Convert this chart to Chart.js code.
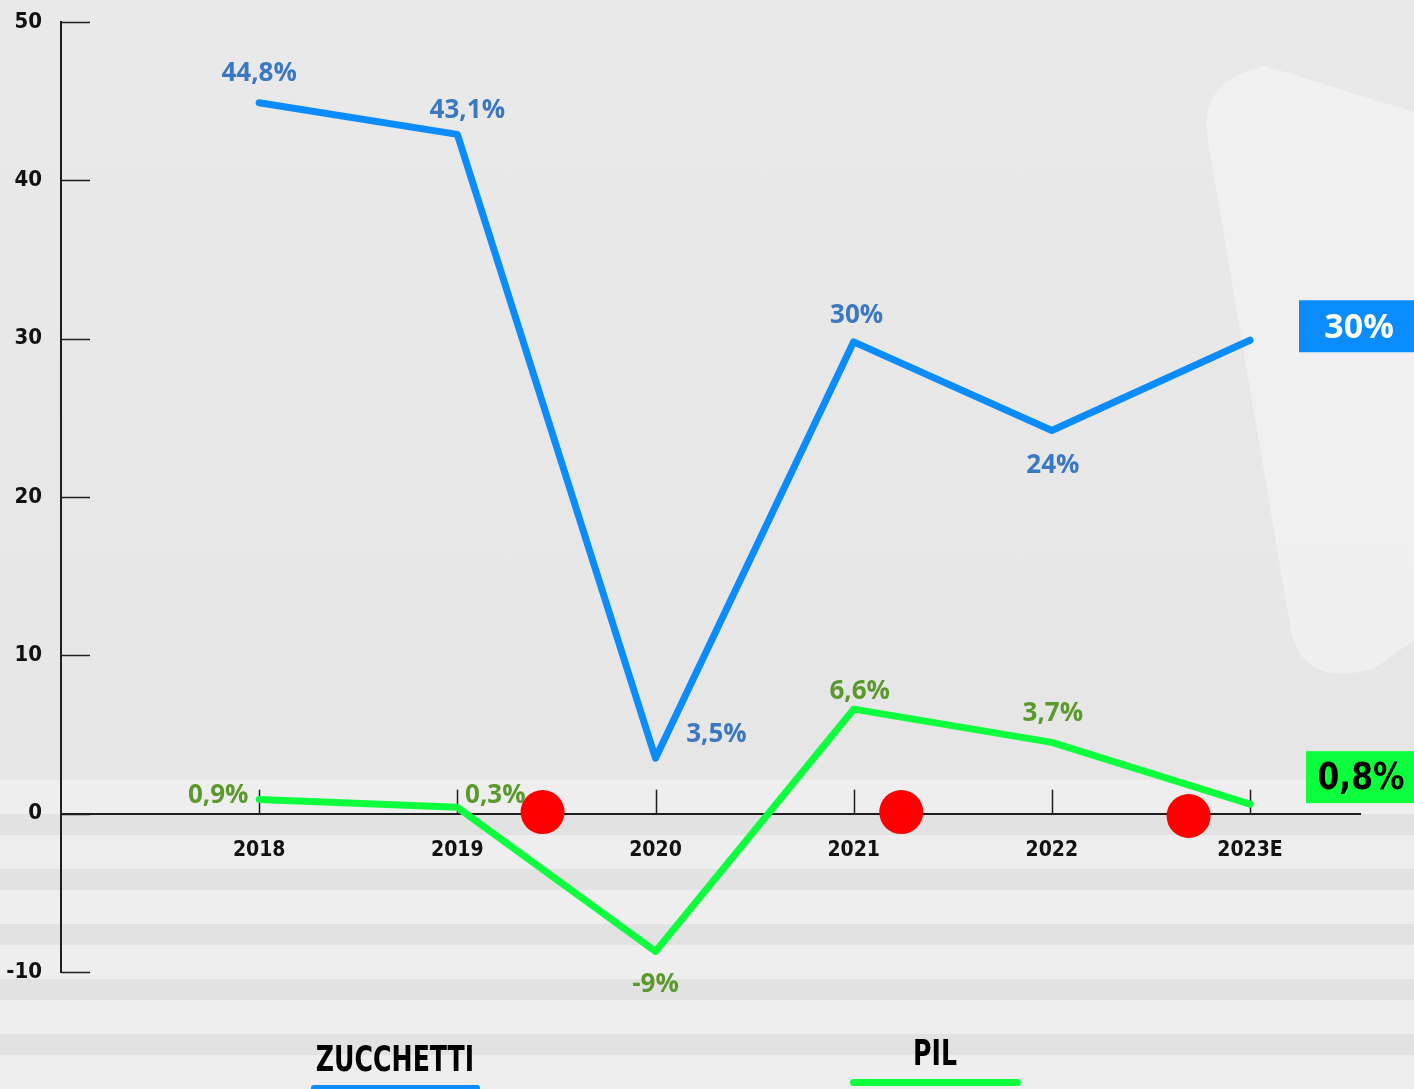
<!DOCTYPE html>
<html lang="it">
<head>
<meta charset="utf-8">
<title>Zucchetti vs PIL</title>
<script src="https://cdn.jsdelivr.net/npm/chart.js@4/dist/chart.umd.min.js"></script>
<style>
    html, body {
        margin: 0;
        padding: 0;
        width: 1414px;
        height: 1089px;
        overflow: hidden;
    }
    #contenitore {
        position: relative;
        width: 1414px;
        height: 1089px;
        background: linear-gradient(180deg, #e9e9e9 0%, #e6e6e6 70%, #e3e3e3 100%);
    }
    #strisce {
        position: absolute;
        left: 0;
        top: 780px;
        width: 1414px;
        height: 309px;
        background: repeating-linear-gradient(180deg,
            #eeeeee 0px, #eeeeee 34px,
            #e2e2e2 34px, #e2e2e2 55px);
    }
    #graficoZucchettiPil {
        position: absolute;
        left: 0;
        top: 0;
    }
</style>
</head>
<body>
<div id="contenitore">
    <div id="strisce"></div>
    <canvas id="graficoZucchettiPil"></canvas>
</div>
<script>
// dati
const anni = [2018, 2019, 2020, 2021, 2022, 2023];
const etichetteAnni = ['2018', '2019', '2020', '2021', '2022', '2023E'];
const tacchePercentuali = [-10, 0, 10, 20, 30, 40, 50];

const valoriZucchetti = [44.9, 42.9, 3.5, 29.8, 24.2, 29.9];
const testiZucchetti = ['44,8%', '43,1%', '3,5%', '30%', '24%', ''];

const valoriPil = [0.9, 0.4, -8.7, 6.6, 4.5, 0.6];
const testiPil = ['0,9%', '0,3%', '-9%', '6,6%', '3,7%', ''];

const finaleZucchetti = '30%';
const finalePil = '0,8%';

// pallini rossi sull'asse
const pallaniX = [2019.43, 2021.24, 2022.69];
const pallaniY = [0.1, 0.1, -0.15];

const colBlu = '#0a8cff';
const colVerde = '#0cff3c';
const colTestoBlu = '#3b78c2';
const colTestoVerde = '#5a9a2c';

const fontStretto = '"DejaVu Sans Condensed", "Liberation Sans Narrow", sans-serif';
const fontPieno = '"Open Sans", "Noto Sans", sans-serif';

// spostamenti delle etichette rispetto al punto (dx, dy)
const spostZucchetti = [[0, -29], [10, -24], [61, -24], [3, -26], [1, 35], [0, 0]];
const spostPil = [[-41, -4], [38, -12], [0, 33], [6, -18], [1, -29], [0, 0]];


function testoStretto(ctx, testo, x, y, fattore) {
    ctx.save();
    ctx.translate(x, y);
    ctx.scale(fattore, 1);
    ctx.fillText(testo, 0, 0);
    ctx.restore();
}

const pluginSfondo = {
    id: 'sfondo',
    beforeDraw(chart) {
        const ctx = chart.ctx;
        ctx.save();
        ctx.fillStyle = 'rgba(250,250,250,0.45)';
        ctx.beginPath();
        ctx.moveTo(1207, 135);
        ctx.quadraticCurveTo(1200, 80, 1265, 66);
        ctx.lineTo(1414, 112);
        ctx.lineTo(1414, 640);
        ctx.lineTo(1375, 668);
        ctx.quadraticCurveTo(1300, 690, 1290, 625);
        ctx.closePath();
        ctx.fill();
        ctx.restore();
    }
};

const pluginTacche = {
    id: 'tacche',
    beforeDatasetsDraw(chart) {
        const ctx = chart.ctx;
        const sx = chart.scales.x;
        const sy = chart.scales.y;
        ctx.save();
        ctx.strokeStyle = '#1e1e1e';
        ctx.lineWidth = 1.5;
        // tacche asse y verso l'interno
        sy.ticks.forEach(t => {
            const py = Math.round(sy.getPixelForValue(t.value)) + 0.5;
            ctx.beginPath();
            ctx.moveTo(sx.left, py);
            ctx.lineTo(sx.left + 29, py);
            ctx.stroke();
        });
        // tacche asse x verso l'alto
        const y0 = sy.getPixelForValue(0);
        anni.forEach(a => {
            const px = Math.round(sx.getPixelForValue(a)) + 0.5;
            ctx.beginPath();
            ctx.moveTo(px, y0);
            ctx.lineTo(px, y0 - 24);
            ctx.stroke();
        });
        ctx.restore();
    }
};

const pluginEtichette = {
    id: 'etichette',
    afterDraw(chart) {
        const ctx = chart.ctx;
        const sx = chart.scales.x;
        const sy = chart.scales.y;
        ctx.save();
        ctx.textAlign = 'center';
        ctx.textBaseline = 'middle';
        ctx.font = 'bold 26px ' + fontPieno;

        ctx.fillStyle = colTestoBlu;
        anni.forEach((a, i) => {
            if (!testiZucchetti[i]) return;
            const px = sx.getPixelForValue(a) + spostZucchetti[i][0];
            const py = sy.getPixelForValue(valoriZucchetti[i]) + spostZucchetti[i][1];
            ctx.fillText(testiZucchetti[i], px, py);
        });

        ctx.fillStyle = colTestoVerde;
        anni.forEach((a, i) => {
            if (!testiPil[i]) return;
            const px = sx.getPixelForValue(a) + spostPil[i][0];
            const py = sy.getPixelForValue(valoriPil[i]) + spostPil[i][1];
            ctx.fillText(testiPil[i], px, py);
        });

        // riquadri finali a destra
        const ultimo = anni.length - 1;
        const yBlu = sy.getPixelForValue(valoriZucchetti[ultimo]);
        ctx.fillStyle = colBlu;
        ctx.fillRect(1299, yBlu - 40, 115, 52);
        ctx.fillStyle = '#ffffff';
        ctx.font = 'bold 34px ' + fontPieno;
        ctx.fillText(finaleZucchetti, 1359, yBlu - 12);

        const yVerde = sy.getPixelForValue(valoriPil[ultimo]);
        ctx.fillStyle = colVerde;
        ctx.fillRect(1306, yVerde - 53, 108, 52);
        ctx.fillStyle = '#000000';
        ctx.font = 'bold 37px "DejaVu Sans", sans-serif';
        testoStretto(ctx, finalePil, 1361, yVerde - 25, 0.85);

        // legenda in basso
        ctx.font = 'bold 36px "DejaVu Sans", sans-serif';
        ctx.fillStyle = '#000000';
        testoStretto(ctx, 'ZUCCHETTI', 395, 1062, 0.7);
        testoStretto(ctx, 'PIL', 935, 1056, 0.7);

        ctx.fillStyle = colBlu;
        ctx.beginPath();
        ctx.roundRect(311, 1085, 169, 8, 3);
        ctx.fill();
        ctx.fillStyle = colVerde;
        ctx.beginPath();
        ctx.roundRect(850, 1079, 171, 7, 3.5);
        ctx.fill();

        ctx.restore();
    }
};


const ctxGrafico = document.getElementById('graficoZucchettiPil').getContext('2d');
const graficoZucchettiPil = new Chart(ctxGrafico, {
    type: 'line',
    data: {
        datasets: [{
            label: 'ZUCCHETTI',
            data: anni.map((a, i) => ({ x: a, y: valoriZucchetti[i] })),
            borderColor: colBlu,
            borderWidth: 7,
            borderCapStyle: 'round',
            borderJoinStyle: 'round',
            pointRadius: 0,
            tension: 0
        }, {
            label: 'PIL',
            data: anni.map((a, i) => ({ x: a, y: valoriPil[i] })),
            borderColor: colVerde,
            borderWidth: 7,
            borderCapStyle: 'round',
            borderJoinStyle: 'round',
            pointRadius: 0,
            tension: 0
        }, {
            type: 'scatter',
            label: 'pallini',
            data: pallaniX.map((x, i) => ({ x: x, y: pallaniY[i] })),
            backgroundColor: '#ff0000',
            borderWidth: 0,
            pointRadius: 22,
            pointHoverRadius: 22
        }]
    },
    options: {
        responsive: true,
        maintainAspectRatio: false,
        animation: false,
        layout: {
            padding: { top: 22, bottom: 117, right: 54, left: 0 }
        },
        scales: {
            x: {
                type: 'linear',
                position: { y: 0 },
                min: 2017,
                max: 2023.555,
                grid: { display: true, drawOnChartArea: false, drawTicks: false },
                border: { display: true, color: '#1e1e1e', width: 2 },
                afterBuildTicks: function (scala) {
                    scala.ticks = anni.map(a => ({ value: a }));
                },
                ticks: {
                    padding: 24,
                    color: '#111111',
                    font: { family: fontStretto, size: 21, weight: 'bold' },
                    callback: function (valore) {
                        const i = anni.indexOf(valore);
                        return i >= 0 ? etichetteAnni[i] : '';
                    }
                }
            },
            y: {
                min: -10,
                max: 50,
                grid: { display: true, drawOnChartArea: false, drawTicks: false },
                border: { display: true, color: '#1e1e1e', width: 2 },
                afterBuildTicks: function (scala) {
                    scala.ticks = tacchePercentuali.map(v => ({ value: v }));
                },
                afterFit: function (scala) {
                    scala.width = 61;
                    scala.paddingTop = 12;
                    scala.paddingBottom = 12;
                },
                ticks: {
                    padding: 19,
                    color: '#111111',
                    font: { family: fontStretto, size: 22, weight: 'bold' }
                }
            }
        },
        plugins: {
            legend: { display: false },
            tooltip: { enabled: false }
        }
    },
    plugins: [pluginSfondo, pluginTacche, pluginEtichette]
});
</script>
</body>
</html>
